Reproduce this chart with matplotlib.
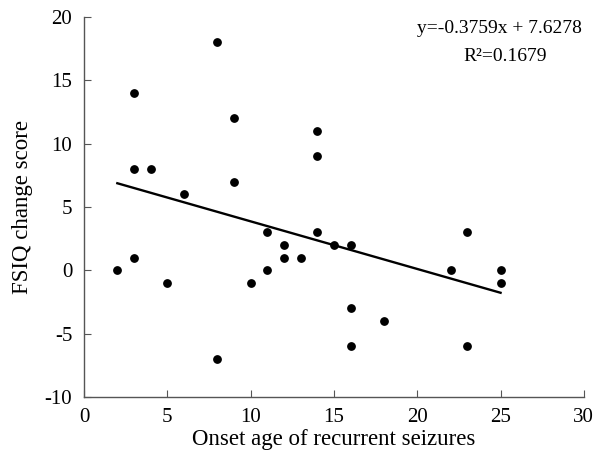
import numpy as np
import matplotlib
matplotlib.use('Agg')
import matplotlib.pyplot as plt

plt.rcParams['font.family'] = ['Liberation Serif', 'DejaVu Serif']
plt.rcParams['axes.unicode_minus'] = False

# Daten: Erkrankungsalter vs. FSIQ-Aenderung
onset_age = [2, 3, 3, 3, 4, 5, 6, 8, 8, 9, 9, 10, 11, 11, 12, 12, 13,
             14, 14, 14, 15, 16, 16, 16, 18, 22, 23, 23, 25, 25]
fsiq_change = [0, 14, 8, 1, 8, -1, 6, 18, -7, 12, 7, -1, 3, 0, 2, 1, 1,
               11, 9, 3, 2, 2, -3, -6, -4, 0, 3, -6, 0, -1]

slope = -0.3759
intercept = 7.6278
r_squared = 0.1679

xticks = [0, 5, 10, 15, 20, 25, 30]
yticks = [-10, -5, 0, 5, 10, 15, 20]

fig = plt.figure(figsize=(5.97, 4.59), dpi=100)
ax = fig.add_axes([0.1407, 0.135, 0.8373, 0.828])

ax.scatter(onset_age, fsiq_change, s=28, color='black', zorder=3)

xs = np.array([min(onset_age), max(onset_age)])
ax.plot(xs, slope * xs + intercept, color='black', linewidth=1.7)

ax.set_xlim(0, 30)
ax.set_ylim(-10, 20)
ax.set_xticks(xticks)
ax.set_yticks(yticks)
ax.tick_params(direction='in', length=5, labelsize=15, color='#555555')
ax.tick_params(axis='y', pad=8.5)
ax.tick_params(axis='x', pad=8)

for side in ['top', 'right']:
    ax.spines[side].set_visible(False)
for side in ['left', 'bottom']:
    ax.spines[side].set_color('#555555')
    ax.spines[side].set_linewidth(1.0)

ax.set_xlabel('Onset age of recurrent seizures', fontsize=16.5, labelpad=1)
ax.set_ylabel('FSIQ change score', fontsize=16.5, labelpad=8)

ax.text(0.832, 0.958, 'y=%.4fx + %.4f' % (slope, intercept), transform=ax.transAxes,
        ha='center', va='baseline', fontsize=14)
ax.text(0.842, 0.884, 'R²=%.4f' % r_squared, transform=ax.transAxes,
        ha='center', va='baseline', fontsize=14)

fig.savefig('out.png', dpi=100)
